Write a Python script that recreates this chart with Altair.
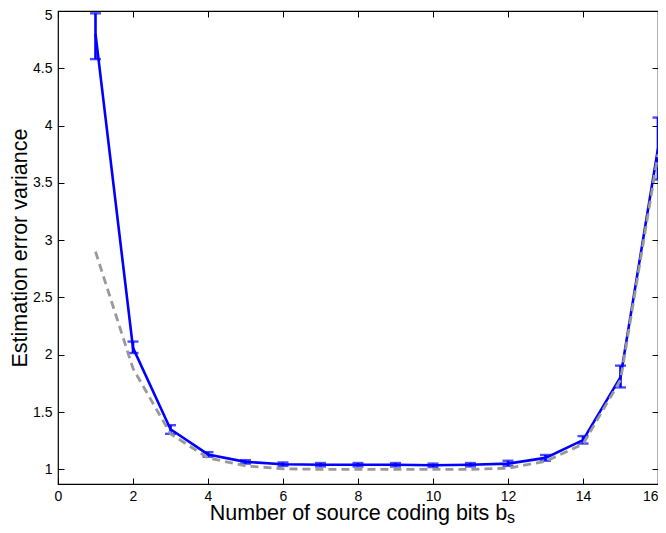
import altair as alt
import pandas as pd

bits = list(range(1, 17))
mean_var = [4.80, 2.06, 1.35, 1.13, 1.065, 1.045, 1.04, 1.04, 1.04, 1.035, 1.04, 1.05, 1.10, 1.255, 1.805, 3.80]
lower = [4.58, 2.015, 1.31, 1.11, 1.05, 1.03, 1.025, 1.025, 1.025, 1.02, 1.025, 1.03, 1.075, 1.225, 1.715, 3.53]
upper = [4.98, 2.115, 1.385, 1.15, 1.08, 1.06, 1.055, 1.055, 1.055, 1.05, 1.055, 1.075, 1.125, 1.29, 1.905, 4.07]
bound = [2.90, 1.88, 1.31, 1.10, 1.03, 1.005, 1.0, 1.0, 1.0, 1.0, 1.0, 1.01, 1.07, 1.22, 1.78, 3.75]

x_ticks = [0, 2, 4, 6, 8, 10, 12, 14, 16]
y_ticks = [1, 1.5, 2, 2.5, 3, 3.5, 4, 4.5, 5]

df = pd.DataFrame({"bits": bits, "mean": mean_var, "lo": lower, "hi": upper, "bound": bound})

FONT = "Liberation Sans"
xs = alt.Scale(domain=[0, 16], nice=False, zero=False)
ys = alt.Scale(domain=[0.872, 5], nice=False, zero=False)

tick_common = dict(domain=False, tickSize=6, offset=-6, tickColor="#000000", tickWidth=1,
                   tickOpacity=1, grid=False)

x_bottom = alt.Axis(values=x_ticks, orient="bottom", labelPadding=5, labelFontSize=14,
                    labelFont=FONT, labelColor="black", format="~g",
                    labelAlign=alt.condition("datum.value == 16", alt.value("right"), alt.value("center")),
                    title="Number of source coding bits b",
                    titleFont=FONT, titleFontSize=21.5, titleFontWeight="normal", titleColor="black",
                    titlePadding=-1, labelFlush=False, **tick_common)
y_left = alt.Axis(values=y_ticks, orient="left", labelPadding=6, labelFontSize=14,
                  labelFont=FONT, labelColor="black", format="~g",
                  labelOffset=alt.condition("datum.value == 5", alt.value(4), alt.value(0)),
                  title="Estimation error variance",
                  titleFont=FONT, titleFontSize=21.5, titleFontWeight="normal", titleColor="black",
                  titlePadding=1, labelFlush=False, **tick_common)
x_top = alt.Axis(values=x_ticks, orient="top", labels=False, title=None, **tick_common)
y_right = alt.Axis(values=y_ticks, orient="right", labels=False, title=None, **tick_common)

base = alt.Chart(df)

line = base.mark_line(color="#0000ff", strokeWidth=2.6).encode(
    x=alt.X("bits:Q", scale=xs, axis=x_bottom),
    y=alt.Y("mean:Q", scale=ys, axis=y_left),
)

bars = base.mark_rule(color="#0000ff", strokeWidth=2.6).encode(
    x=alt.X("bits:Q", scale=xs, axis=x_top),
    y=alt.Y("lo:Q", scale=ys, axis=y_right),
    y2="hi:Q",
)

cap_lo = base.mark_tick(color="#0000ff", orient="horizontal", size=11, thickness=2.4).encode(
    x=alt.X("bits:Q", scale=xs, axis=None),
    y=alt.Y("lo:Q", scale=ys, axis=None),
)
cap_hi = base.mark_tick(color="#0000ff", orient="horizontal", size=11, thickness=2.4).encode(
    x=alt.X("bits:Q", scale=xs, axis=None),
    y=alt.Y("hi:Q", scale=ys, axis=None),
)

dashed = base.mark_line(color="#999999", strokeWidth=2.8, strokeDash=[8, 5]).encode(
    x=alt.X("bits:Q", scale=xs, axis=None),
    y=alt.Y("bound:Q", scale=ys, axis=None),
)

sub = alt.Chart(pd.DataFrame({"t": ["s"]})).mark_text(
    font=FONT, fontSize=16, color="black", align="left", baseline="alphabetic"
).encode(x=alt.value(449), y=alt.value(512), text="t:N")

chart = alt.layer(line, bars, cap_lo, cap_hi, dashed, sub).properties(
    width=600, height=473,
    background="white",
    autosize=alt.AutoSizeParams(type="none"),
    padding={"left": 50, "top": 3, "right": 0, "bottom": 41},
).configure_view(stroke="#000000", strokeWidth=1.2, strokeOpacity=1)

chart.save("out.html", embed_options={"renderer": "svg", "actions": False})
